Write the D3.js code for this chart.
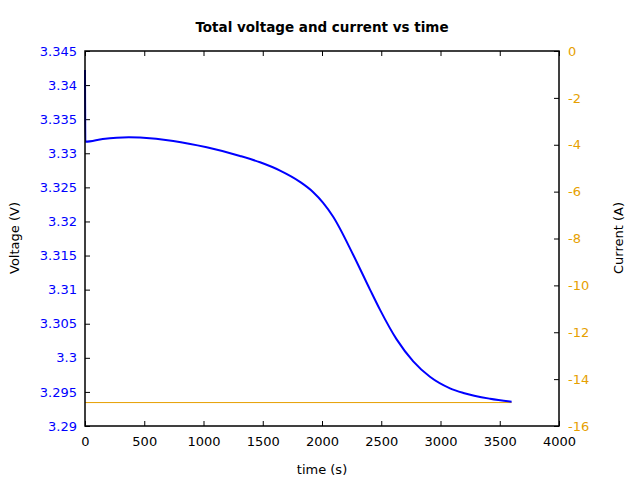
<!DOCTYPE html>
<html><head><meta charset="utf-8">
<script src="https://cdn.jsdelivr.net/npm/d3@7"></script>
<style>body{margin:0;background:#fff}svg{display:block}text{font-family:"DejaVu Sans",sans-serif}</style>
</head><body><svg id="c" width="640" height="480"></svg>
<script>
const timeV = [0, 3, 150, 370, 464, 745, 1027, 1308, 1477, 1646, 1814, 1924, 2008, 2093, 2264, 2405, 2489, 2630, 2770, 2911, 3080, 3193, 3418, 3600];
const voltage = [3.3422, 3.3317, 3.3321, 3.33236, 3.3323, 3.3318, 3.33087, 3.32961, 3.32868, 3.32746, 3.32581, 3.32433, 3.32277, 3.32073, 3.31509, 3.31001, 3.30707, 3.3027, 3.29948, 3.29722, 3.29553, 3.29485, 3.294, 3.29355];
const timeI = [0, 3600];
const current = [-15, -15];
const xTicks = [0, 500, 1000, 1500, 2000, 2500, 3000, 3500, 4000];
const yTicks = [3.29, 3.295, 3.3, 3.305, 3.31, 3.315, 3.32, 3.325, 3.33, 3.335, 3.34, 3.345];
const y2Ticks = [0, -2, -4, -6, -8, -10, -12, -14, -16];

const L = 85, R = 559, T = 51, B = 426;
const svg = d3.select("#c");
const x = d3.scaleLinear().domain([0, 4000]).range([L, R]);
const y = d3.scaleLinear().domain([3.29, 3.345]).range([B, T]);
const y2 = d3.scaleLinear().domain([-16, 0]).range([B, T]);
const blue = "#0000ff", orange = "#e69f00";

const gx = svg.append("g").attr("transform", `translate(0,${B})`)
  .call(d3.axisBottom(x).tickValues(xTicks).tickFormat(d3.format("d")).tickSizeInner(-5).tickSizeOuter(0).tickPadding(11));
const gxt = svg.append("g").attr("transform", `translate(0,${T})`)
  .call(d3.axisTop(x).tickValues(xTicks).tickFormat("").tickSizeInner(-5).tickSizeOuter(0));
const gy = svg.append("g").attr("transform", `translate(${L},0)`)
  .call(d3.axisLeft(y).tickValues(yTicks).tickFormat(d => String(+d.toFixed(3))).tickSizeInner(-5).tickSizeOuter(0).tickPadding(8));
const gy2 = svg.append("g").attr("transform", `translate(${R},0)`)
  .call(d3.axisRight(y2).tickValues(y2Ticks).tickFormat(d => d === 0 ? "0" : "-" + Math.abs(d)).tickSizeInner(-5).tickSizeOuter(0).tickPadding(9));
[gx, gxt, gy, gy2].forEach(g => {
  g.select(".domain").remove();
  g.selectAll("line").attr("stroke", "#000");
  g.selectAll("text").attr("font-size", 13).attr("font-family", "DejaVu Sans, sans-serif");
});
gx.selectAll("text").attr("fill", "#000");
gy.selectAll("text").attr("fill", blue);
gy2.selectAll("text").attr("fill", orange);

svg.append("path")
  .datum(timeI.map((t, i) => [t, current[i]]))
  .attr("fill", "none").attr("stroke", orange).attr("stroke-width", 1)
  .attr("d", d3.line().x(d => x(d[0])).y(d => y2(d[1])));

svg.append("path")
  .datum(timeV.map((t, i) => [t, voltage[i]]))
  .attr("fill", "none").attr("stroke", blue).attr("stroke-width", 2)
  .attr("d", d3.line().curve(d3.curveMonotoneX).x(d => x(d[0])).y(d => y(d[1])));

svg.append("rect").attr("x", L).attr("y", T).attr("width", R - L).attr("height", B - T)
  .attr("fill", "none").attr("stroke", "#000").attr("stroke-width", 1.5);

svg.append("text").attr("x", 322).attr("y", 32).attr("text-anchor", "middle")
  .attr("font-size", 13.5).attr("font-weight", "bold").text("Total voltage and current vs time");
svg.append("text").attr("x", 322).attr("y", 474).attr("text-anchor", "middle")
  .attr("font-size", 13).text("time (s)");
svg.append("text").attr("transform", "translate(19,238) rotate(-90)").attr("text-anchor", "middle")
  .attr("font-size", 13).text("Voltage (V)");
svg.append("text").attr("transform", "translate(623,238) rotate(-90)").attr("text-anchor", "middle")
  .attr("font-size", 13).text("Current (A)");
</script></body></html>
